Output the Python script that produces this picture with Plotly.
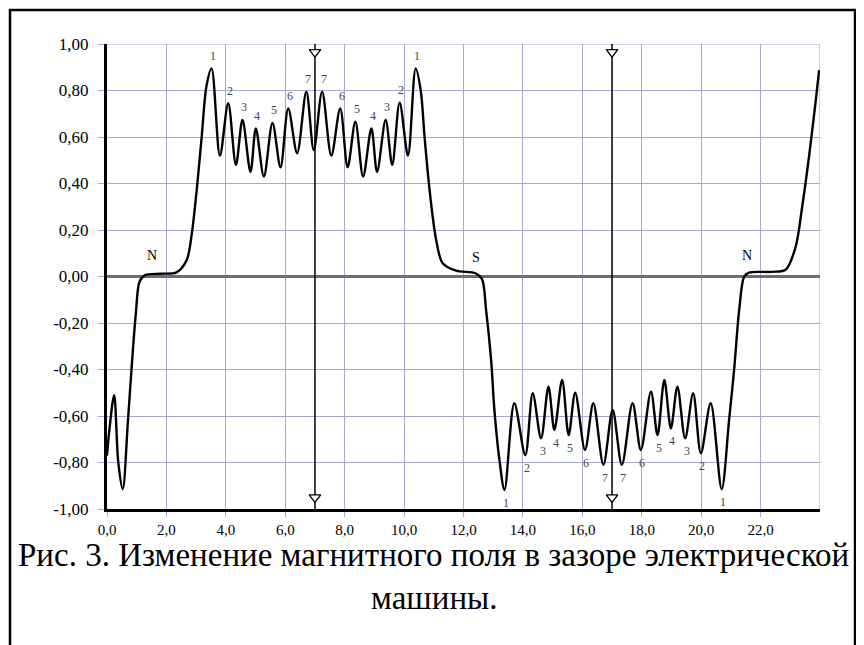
import plotly.graph_objects as go

# ---- data ----
curve_x = [0.00, 0.08, 0.24, 0.38, 0.53, 0.70, 0.83, 0.97, 1.10, 1.28, 1.80, 2.34, 2.68, 2.85, 3.01,
           3.18, 3.35, 3.52, 3.80, 4.08, 4.34, 4.56, 4.83, 5.01, 5.28, 5.57, 5.84, 6.10, 6.40,
           6.71, 6.96, 7.24, 7.55, 7.85, 8.10, 8.36, 8.62, 8.90, 9.09, 9.38, 9.60, 9.85, 10.13,
           10.39, 10.56, 10.69, 10.86, 11.08, 11.30, 11.75, 12.40, 12.62, 12.76, 12.93, 13.04,
           13.21, 13.38, 13.71, 14.08, 14.33, 14.61, 14.86, 15.06, 15.32, 15.54, 15.76, 16.09,
           16.37, 16.71, 17.02, 17.33, 17.69, 17.97, 18.31, 18.53, 18.76, 18.98, 19.20, 19.46,
           19.73, 19.99, 20.32, 20.69, 20.94, 21.11, 21.28, 21.45, 21.61, 22.40, 22.85, 23.18,
           23.40, 23.63, 23.86, 23.97]
curve_y = [-0.77, -0.66, -0.51, -0.80, -0.915, -0.63, -0.39, -0.16, -0.02, 0.006, 0.012, 0.018, 0.07, 0.18, 0.36,
           0.59, 0.82, 0.895, 0.52, 0.745, 0.48, 0.673, 0.45, 0.637, 0.43, 0.66, 0.47, 0.723, 0.53,
           0.795, 0.544, 0.795, 0.52, 0.723, 0.47, 0.666, 0.43, 0.637, 0.45, 0.673, 0.48, 0.748, 0.52,
           0.895, 0.80, 0.60, 0.37, 0.157, 0.057, 0.025, 0.014, -0.01, -0.144, -0.36, -0.574,
           -0.79, -0.918, -0.545, -0.768, -0.502, -0.696, -0.474, -0.66, -0.445, -0.682, -0.50, -0.746,
           -0.545, -0.81, -0.574, -0.81, -0.545, -0.746, -0.495, -0.682, -0.445, -0.653, -0.474, -0.696,
           -0.502, -0.76, -0.545, -0.915, -0.617, -0.40, -0.144, 0.0, 0.017, 0.02, 0.03, 0.128,
           0.30, 0.515, 0.76, 0.888]

upper_labels = ["1", "2", "3", "4", "5", "6", "7", "7", "6", "5", "4", "3", "2", "1"]
lower_labels = ["1", "2", "3", "4", "5", "6", "7", "7", "6", "5", "4", "3", "2", "1"]

pole_text = ["N", "S", "N"]
pole_x = [1.5, 12.43, 21.55]
pole_y = [0.09, 0.08, 0.09]

marker_lines_x = [7.0, 17.0]

x_ticks = [0, 2, 4, 6, 8, 10, 12, 14, 16, 18, 20, 22]
x_tick_text = ["0,0", "2,0", "4,0", "6,0", "8,0", "10,0", "12,0", "14,0", "16,0", "18,0", "20,0", "22,0"]
y_ticks = [1.0, 0.8, 0.6, 0.4, 0.2, 0.0, -0.2, -0.4, -0.6, -0.8, -1.0]
y_tick_text = ["1,00", "0,80", "0,60", "0,40", "0,20", "0,00", "-0,20", "-0,40", "-0,60", "-0,80", "-1,00"]

caption_1 = "Рис. 3. Изменение магнитного поля в зазоре электрической"
caption_2 = "машины."

# ---- figure ----
GRID = "#a8a8d6"
SERIF = "Liberation Serif, Times New Roman, serif"

fig = go.Figure()

for mx in marker_lines_x:
    fig.add_trace(go.Scatter(x=[mx, mx], y=[1.0, -1.0], mode="lines",
                             line=dict(color="black", width=1.5), hoverinfo="skip", showlegend=False))
    fig.add_trace(go.Scatter(x=[mx, mx], y=[0.965, -0.95], mode="markers",
                             marker=dict(symbol="triangle-down", size=10, color="white",
                                         line=dict(color="black", width=1.3)),
                             hoverinfo="skip", showlegend=False))

fig.add_trace(go.Scatter(x=curve_x, y=curve_y, mode="lines",
                         line=dict(color="black", width=2.4, shape="spline", smoothing=0.9),
                         showlegend=False))

annotations = []
peaks = [i for i in range(1, len(curve_y) - 1)
         if curve_y[i] > curve_y[i - 1] and curve_y[i] > curve_y[i + 1] and curve_y[i] > 0.3]
for lab, i in zip(upper_labels, peaks):
    annotations.append(dict(x=curve_x[i] + 0.05, y=curve_y[i] + 0.055, text=lab, showarrow=False,
                            font=dict(family=SERIF, size=12, color="#444444")))
troughs = [i for i in range(1, len(curve_y) - 1)
           if curve_y[i] < curve_y[i - 1] and curve_y[i] < curve_y[i + 1] and curve_y[i] < -0.6
           and curve_x[i] > 12]
for lab, i in zip(lower_labels, troughs):
    annotations.append(dict(x=curve_x[i] + 0.05, y=curve_y[i] - 0.055, text=lab, showarrow=False,
                            font=dict(family=SERIF, size=12, color="#444444")))
for t, px, py in zip(pole_text, pole_x, pole_y):
    annotations.append(dict(x=px, y=py, text=t, showarrow=False,
                            font=dict(family=SERIF, size=14, color="black")))

annotations.append(dict(xref="paper", yref="paper", x=0.458, y=-0.099, text=caption_1, showarrow=False,
                        xanchor="center", yanchor="middle",
                        font=dict(family=SERIF, size=33, color="black")))
annotations.append(dict(xref="paper", yref="paper", x=0.458, y=-0.191, text=caption_2, showarrow=False,
                        xanchor="center", yanchor="middle",
                        font=dict(family=SERIF, size=33, color="black")))

shapes = [
    dict(type="line", xref="x", yref="y", x0=0, x1=24, y0=1.0, y1=1.0, line=dict(color=GRID, width=1.2), layer="below"),
    dict(type="line", xref="x", yref="y", x0=24, x1=24, y0=-1.0, y1=1.0, line=dict(color=GRID, width=1.2), layer="below"),
    # outer frame (its bottom edge lies below the visible page, as in the reference)
    dict(type="rect", xref="paper", yref="paper",
         x0=(10 - 107) / 713, x1=(855 - 107) / 713, y0=(509 - 660) / 465, y1=(509 - 10) / 465,
         line=dict(color="black", width=2.5)),
]

# page body adds an 8px offset; figure sized/margined so the plot lands where the reference has it
fig.update_layout(
    width=856, height=637,
    margin=dict(l=99, r=44, t=36, b=136),
    paper_bgcolor="white", plot_bgcolor="white",
    annotations=annotations, shapes=shapes,
    xaxis=dict(range=[0, 24], tickvals=x_ticks, ticktext=x_tick_text,
               showgrid=True, gridcolor=GRID, gridwidth=1.2, zeroline=False,
               showline=True, linecolor="black", linewidth=3,
               ticks="outside", ticklen=5, tickcolor=GRID,
               tickfont=dict(family=SERIF, size=15, color="black")),
    yaxis=dict(range=[-1.0, 1.0], tickvals=y_ticks, ticktext=y_tick_text,
               showgrid=True, gridcolor=GRID, gridwidth=1.2,
               zeroline=True, zerolinecolor="#6e6e6e", zerolinewidth=2.5,
               showline=True, linecolor="black", linewidth=3,
               ticks="outside", ticklen=6, tickcolor=GRID, ticklabelstandoff=6,
               tickfont=dict(family=SERIF, size=17, color="black")),
)

fig.write_html("out.html")
